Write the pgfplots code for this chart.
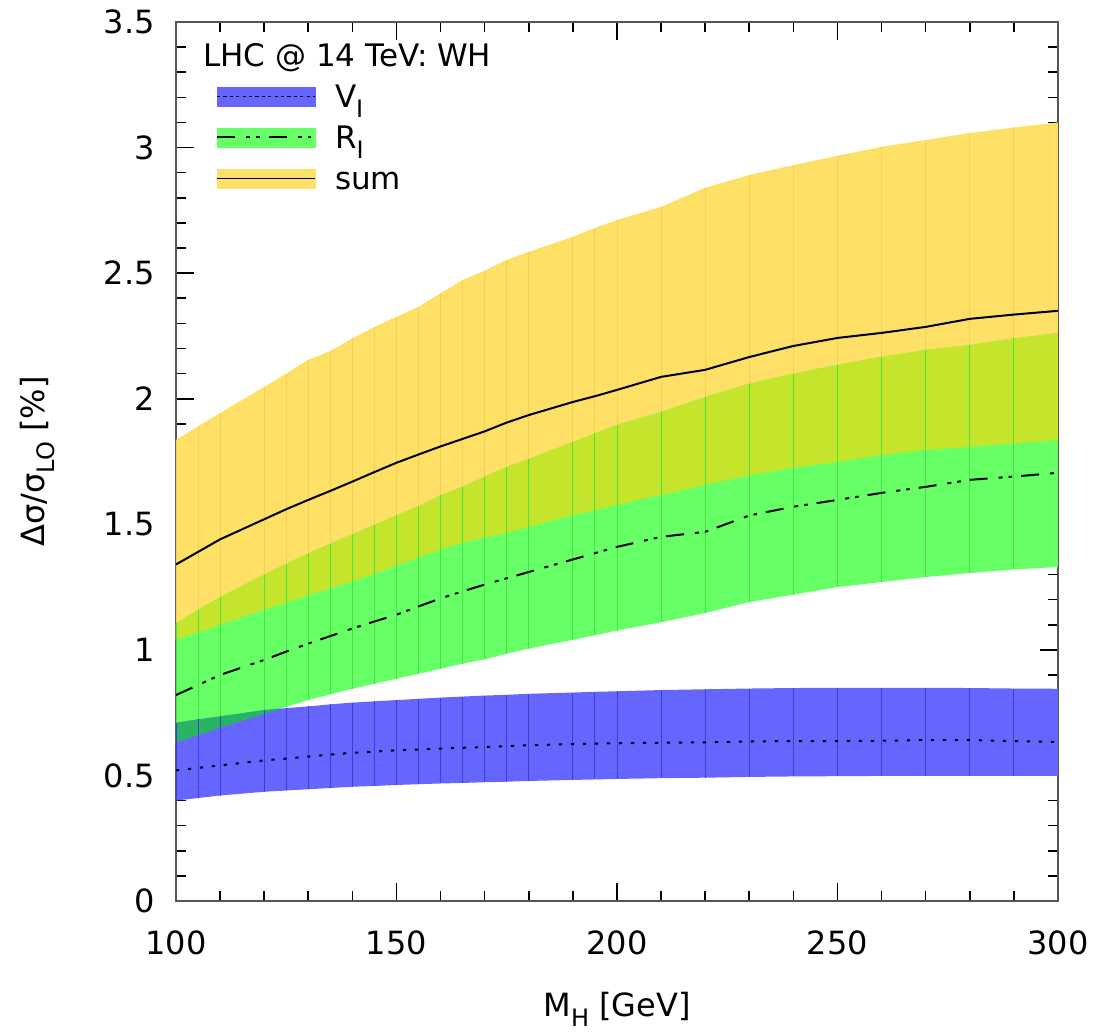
\documentclass[border=0pt]{standalone}
\usepackage{pgfplots}
\pgfplotsset{compat=1.18}
\usepackage{pgfplotstable}
\usepgfplotslibrary{fillbetween}
\usepackage{fontspec}
\setmainfont{DejaVu Sans}

\definecolor{yband}{RGB}{254,224,102}
\definecolor{ydark}{RGB}{242,208,80}
\definecolor{gband}{RGB}{102,255,102}
\definecolor{gdark}{RGB}{70,225,70}
\definecolor{bband}{RGB}{102,102,255}
\definecolor{bdark}{RGB}{60,60,225}
\definecolor{limec}{RGB}{196,229,44}
\definecolor{tealc}{RGB}{40,180,100}
\definecolor{axgray}{RGB}{85,85,85}

\newcommand{\sub}[1]{\raisebox{-0.32em}{\fontsize{12}{13}\selectfont #1}}

\pgfplotstableread{
x vlo vhi v rlo rhi r slo shi s
100 0.400 0.710 0.520 0.630 1.105 0.820 1.040 1.836 1.340
105 0.410 0.723 0.530 0.660 1.160 0.860 1.070 1.890 1.390
110 0.420 0.735 0.540 0.690 1.210 0.900 1.100 1.943 1.440
120 0.435 0.760 0.560 0.745 1.300 0.960 1.160 2.047 1.520
125 0.440 0.768 0.567 0.773 1.343 0.993 1.188 2.100 1.560
130 0.445 0.775 0.575 0.800 1.385 1.025 1.217 2.155 1.597
135 0.450 0.783 0.583 0.823 1.423 1.055 1.245 2.190 1.633
140 0.455 0.790 0.590 0.845 1.460 1.085 1.272 2.240 1.670
145 0.458 0.795 0.595 0.865 1.498 1.113 1.303 2.286 1.708
150 0.462 0.800 0.600 0.885 1.535 1.140 1.335 2.326 1.745
155 0.465 0.805 0.603 0.905 1.573 1.173 1.368 2.366 1.778
160 0.468 0.810 0.607 0.925 1.615 1.205 1.400 2.420 1.810
165 0.470 0.814 0.610 0.945 1.650 1.233 1.427 2.473 1.840
170 0.473 0.818 0.613 0.962 1.690 1.260 1.447 2.510 1.870
175 0.475 0.821 0.617 0.985 1.728 1.285 1.465 2.553 1.905
180 0.478 0.825 0.620 1.005 1.760 1.310 1.490 2.585 1.935
190 0.482 0.830 0.625 1.040 1.828 1.360 1.537 2.645 1.987
195 0.484 0.833 0.627 1.058 1.862 1.385 1.557 2.680 2.010
200 0.486 0.835 0.628 1.077 1.896 1.410 1.577 2.712 2.035
210 0.489 0.840 0.630 1.110 1.947 1.450 1.617 2.764 2.087
220 0.491 0.843 0.632 1.147 2.007 1.470 1.657 2.840 2.115
230 0.494 0.846 0.635 1.190 2.060 1.535 1.695 2.891 2.166
240 0.496 0.848 0.637 1.220 2.100 1.570 1.725 2.930 2.210
250 0.497 0.849 0.637 1.250 2.135 1.597 1.748 2.967 2.242
260 0.498 0.849 0.638 1.270 2.167 1.625 1.776 3.003 2.262
270 0.498 0.849 0.641 1.290 2.194 1.649 1.796 3.030 2.286
280 0.498 0.848 0.641 1.306 2.214 1.677 1.808 3.058 2.318
290 0.498 0.846 0.637 1.320 2.240 1.690 1.822 3.080 2.335
300 0.498 0.845 0.633 1.330 2.262 1.705 1.836 3.100 2.350
}\data

% overlap of R band and V band (up to where the edges cross)
\pgfplotstableread{
x lo hi
100 0.630 0.710
105 0.660 0.723
110 0.690 0.735
120 0.745 0.760
123.7 0.766 0.766
}\overlap

\begin{document}
\begin{tikzpicture}
\begin{axis}[
  at={(0,0)}, anchor=south west,
  scale only axis, width=441pt, height=439.5pt,
  xmin=100, xmax=300, ymin=0, ymax=3.5,
  xtick={100,150,...,300}, ytick={0,0.5,...,3.5},
  minor x tick num=4, minor y tick num=4,
  tick align=inside, xtick pos=both, ytick pos=both,
  major tick length=9pt, minor tick length=5pt,
  axis line style={line width=1pt, color=axgray},
  tick style={line width=0.8pt, color=black},
  /pgf/number format/assume math mode=true,
  ticklabel style={font=\fontsize{16}{19}\selectfont, inner sep=0pt},
  xticklabel style={anchor=base, yshift=-27pt},
  yticklabel style={anchor=east, xshift=-10.5pt},
  xlabel={M\sub{H} [GeV]},
  ylabel={Δσ/σ\sub{LO} [\%]},
  label style={font=\fontsize{16}{19}\selectfont},
  xlabel style={at={(axis description cs:0.5,-0.131)}, anchor=base},
  ylabel style={at={(axis description cs:-0.157,0.5)}, anchor=center},
  legend style={at={(axis description cs:0.0454,0.9386)}, anchor=north west,
    draw=none, fill=none, inner sep=0pt, outer sep=0pt,
    row sep=0pt, column sep=9.5pt,
    nodes={inner sep=0pt, text height=15.9pt, text depth=4.6pt,
      font=\fontsize{15.5}{18}\selectfont}},
  legend cell align=left,
]
% named boundary paths
\addplot[draw=none, name path=shi, forget plot] table[x=x,y=shi]{\data};
\addplot[draw=none, name path=slo, forget plot] table[x=x,y=slo]{\data};
\addplot[draw=none, name path=rhi, forget plot] table[x=x,y=rhi]{\data};
\addplot[draw=none, name path=rlo, forget plot] table[x=x,y=rlo]{\data};
\addplot[draw=none, name path=vhi, forget plot] table[x=x,y=vhi]{\data};
\addplot[draw=none, name path=vlo, forget plot] table[x=x,y=vlo]{\data};
\addplot[draw=none, name path=olo, forget plot] table[x=x,y=lo]{\overlap};
\addplot[draw=none, name path=ohi, forget plot] table[x=x,y=hi]{\overlap};

% sum band
\addplot[fill=yband, draw=none, forget plot] fill between[of=shi and slo];
\addplot[ydark, line width=0.45pt, forget plot, quiver={u=0, v=\thisrow{shi}-\thisrow{slo}}]
  table[x=x, y=slo]{\data};

% R band
\addplot[fill=gband, draw=none, forget plot] fill between[of=rhi and rlo];
\addplot[gdark, line width=0.45pt, forget plot, quiver={u=0, v=\thisrow{rhi}-\thisrow{rlo}}]
  table[x=x, y=rlo]{\data};

% overlap sum & R
\addplot[fill=limec, draw=none, forget plot] fill between[of=rhi and slo];

% V band
\addplot[fill=bband, draw=none, forget plot] fill between[of=vhi and vlo];
\addplot[bdark, line width=0.45pt, forget plot, quiver={u=0, v=\thisrow{vhi}-\thisrow{vlo}}]
  table[x=x, y=vlo]{\data};

% overlap R & V
\addplot[fill=tealc, draw=none, forget plot] fill between[of=ohi and olo];

% central lines
\addplot[black, line width=1pt, dash pattern=on 1.6pt off 4.4pt, forget plot] table[x=x,y=v]{\data};
\addplot[black, line width=1pt, dash pattern=on 9pt off 5.5pt on 2pt off 3pt on 1.8pt off 4.5pt, forget plot] table[x=x,y=r]{\data};
\addplot[black, line width=1pt, forget plot] table[x=x,y=s]{\data};

% legend
\addlegendimage{legend image code/.code={
  \fill[bband] (0pt,-4.75pt) rectangle (49pt,4.75pt);
  \draw[black, line width=0.7pt, dash pattern=on 1.6pt off 1.6pt] (0pt,0pt) -- (49pt,0pt);}}
\addlegendentry{V\sub{I}}
\addlegendimage{legend image code/.code={
  \fill[gband] (0pt,-4.75pt) rectangle (49pt,4.75pt);
  \draw[black, line width=1pt, dash pattern=on 9pt off 5.5pt on 2pt off 3pt on 1.8pt off 4.5pt] (0pt,0pt) -- (49pt,0pt);}}
\addlegendentry{R\sub{I}}
\addlegendimage{legend image code/.code={
  \fill[yband] (0pt,-4.75pt) rectangle (49pt,4.75pt);
  \draw[black, line width=0.7pt] (0pt,0pt) -- (49pt,0pt);}}
\addlegendentry{sum}

\node[anchor=base west, inner sep=0pt, font=\fontsize{15.5}{18}\selectfont]
  at (axis description cs:0.0306,0.9488) {LHC @ 14 TeV: WH};
\end{axis}
\path (-88pt,-62.5pt) rectangle (462pt,450.5pt);
\end{tikzpicture}
\end{document}
